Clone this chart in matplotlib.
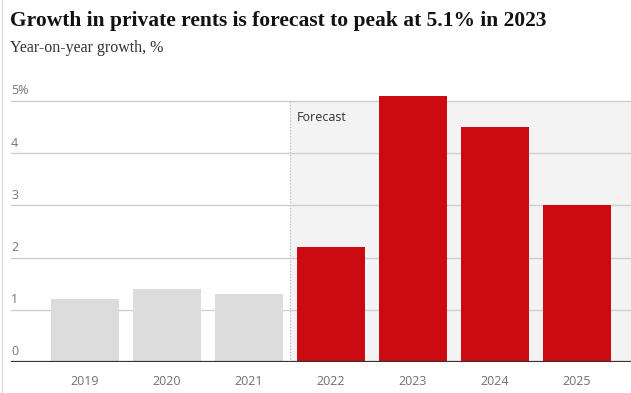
import matplotlib.pyplot as plt
from matplotlib.lines import Line2D

years = ["2019", "2020", "2021", "2022", "2023", "2024", "2025"]
growth = [1.2, 1.4, 1.3, 2.2, 5.1, 4.5, 3.0]
is_forecast = [False, False, False, True, True, True, True]
y_ticks = [0, 1, 2, 3, 4, 5]
y_labels = ["0", "1", "2", "3", "4", "5%"]

W, H = 631, 393
fig = plt.figure(figsize=(W / 100, H / 100), dpi=100)

# axes placed in pixel terms: x spans left edge to right edge, y=0 at px 362
ytop = 5.3
top_px = 362 - ytop * 52.2
ax = fig.add_axes([11 / W, 1 - 362 / H, 1 - 11 / W, (362 - top_px) / H])

xs = list(range(len(years)))
ax.set_xlim(-0.90, 6.66)
ax.set_ylim(0, ytop)

# forecast shading, up to the top grid line
ax.axvspan(2.5, 6.66, ymax=5 / ytop, color="#f3f3f3", zorder=0, lw=0)
ax.plot([2.5, 2.5], [0, 5], color="#bdbdbd", lw=0.9, ls=(0, (1, 1.5)), zorder=1)

for t in y_ticks[1:]:
    ax.axhline(t, color="#cfcfcf", lw=1, zorder=1)

colors = ["#cc0a11" if f else "#dcdcdc" for f in is_forecast]
ax.bar(xs, growth, width=0.83, color=colors, zorder=2)

ax.axhline(0, color="#333333", lw=1.6, zorder=3)

# tick labels sitting above grid lines
for t, lab in zip(y_ticks, y_labels):
    ax.text(-0.90, t + 0.07, lab, ha="left", va="bottom", fontsize=9,
            color="#767676", family="Open Sans")

for x, y in zip(xs, years):
    ax.text(x, -0.24, y, ha="center", va="top", fontsize=9,
            color="#707070", family="Open Sans")

ax.text(2.58, 4.68, "Forecast", ha="left", va="center", fontsize=9,
        color="#333333", family="Open Sans")

ax.set_xticks([])
ax.set_yticks([])
for s in ax.spines.values():
    s.set_visible(False)
ax.patch.set_alpha(0)

fig.text(10 / W, 1 - 26 / H, "Growth in private rents is forecast to peak at 5.1% in 2023",
         fontsize=15.5, fontweight="bold", family="Liberation Serif", color="#121212",
         ha="left", va="baseline")
fig.text(10 / W, 1 - 52 / H, "Year-on-year growth, %", fontsize=11.5,
         family="Liberation Serif", color="#333333", ha="left", va="baseline")

fig.add_artist(Line2D([2 / W, 2 / W], [0, 1], color="#dddddd", lw=1,
                      transform=fig.transFigure))

fig.savefig("out.png", dpi=100)
